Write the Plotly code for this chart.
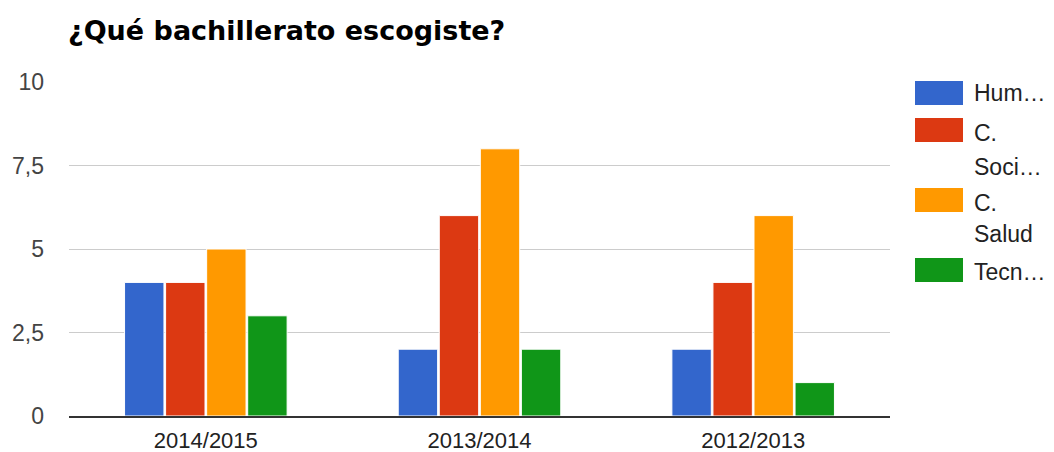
import plotly.graph_objects as go

categories = ["2014/2015", "2013/2014", "2012/2013"]
series_names = ["Hum…", "C. Soci…", "C. Salud", "Tecn…"]
legend_lines = [["Hum…"], ["C.", "Soci…"], ["C.", "Salud"], ["Tecn…"]]
hum = [4, 2, 2]
soc = [4, 6, 4]
sal = [5, 8, 6]
tec = [3, 2, 1]
colors = ["#3366cc", "#dc3912", "#ff9900", "#109618"]
ytick_vals = [0, 2.5, 5, 7.5, 10]
ytick_text = ["0", "2,5", "5", "7,5", "10"]

FONT = "Arial, Liberation Sans, sans-serif"
TFONT = "DejaVu Sans, Arial, sans-serif"

# page body has an 8px margin: work in window coordinates and subtract it
OFF = 8
W, H = 1054 - OFF, 452 - OFF
L, R, T, B = 69 - OFF, 890 - OFF, 82 - OFF, 416 - OFF
PW, PH = R - L, B - T

fig = go.Figure()
for name, vals, col in zip(series_names, [hum, soc, sal, tec], colors):
    fig.add_trace(go.Bar(x=categories, y=vals, name=name,
                         marker=dict(color=col, line=dict(color="white", width=1))))

# custom legend (swatches + text) on the right
sw_top = [81, 118, 188, 258]
text_y = [[93], [133, 167], [203, 234], [272]]
for i in range(4):
    y0 = sw_top[i] - OFF
    fig.add_shape(type="rect", xref="paper", yref="paper",
                  x0=(915 - OFF - L) / PW, x1=(963 - OFF - L) / PW,
                  y0=(B - (y0 + 24)) / PH, y1=(B - y0) / PH,
                  fillcolor=colors[i], line=dict(color=colors[i], width=0))
    for line, ty in zip(legend_lines[i], text_y[i]):
        fig.add_annotation(xref="paper", yref="paper", x=(972 - OFF - L) / PW,
                           y=(B - (ty - OFF)) / PH, text=line, showarrow=False,
                           xanchor="left", yanchor="middle",
                           font=dict(family=FONT, size=23, color="#222222"))

fig.update_layout(
    width=W, height=H,
    margin=dict(l=L, r=W - R, t=T, b=H - B, autoexpand=False),
    paper_bgcolor="white", plot_bgcolor="white",
    barmode="group", bargap=0.4, bargroupgap=0.04,
    showlegend=False,
    title=dict(text="<b>¿Qué bachillerato escogiste?</b>", x=(68 - OFF) / W, xanchor="left",
               y=1 - (31 - OFF) / H, yanchor="middle",
               font=dict(family=TFONT, size=27, color="#000000")),
    font=dict(family=FONT, size=23, color="#444444"),
)
fig.update_yaxes(range=[0, 10], tickvals=ytick_vals, ticktext=ytick_text,
                 gridcolor="#cccccc", gridwidth=1, zeroline=False,
                 showline=False, ticklabelstandoff=24, automargin=False,
                 tickfont=dict(family=FONT, size=23, color="#444444"))
fig.update_xaxes(showline=True, linecolor="#333333", linewidth=2,
                 ticks="", ticklabelstandoff=4, automargin=False,
                 tickfont=dict(family=FONT, size=22, color="#222222"))

fig.write_html("out.html")
